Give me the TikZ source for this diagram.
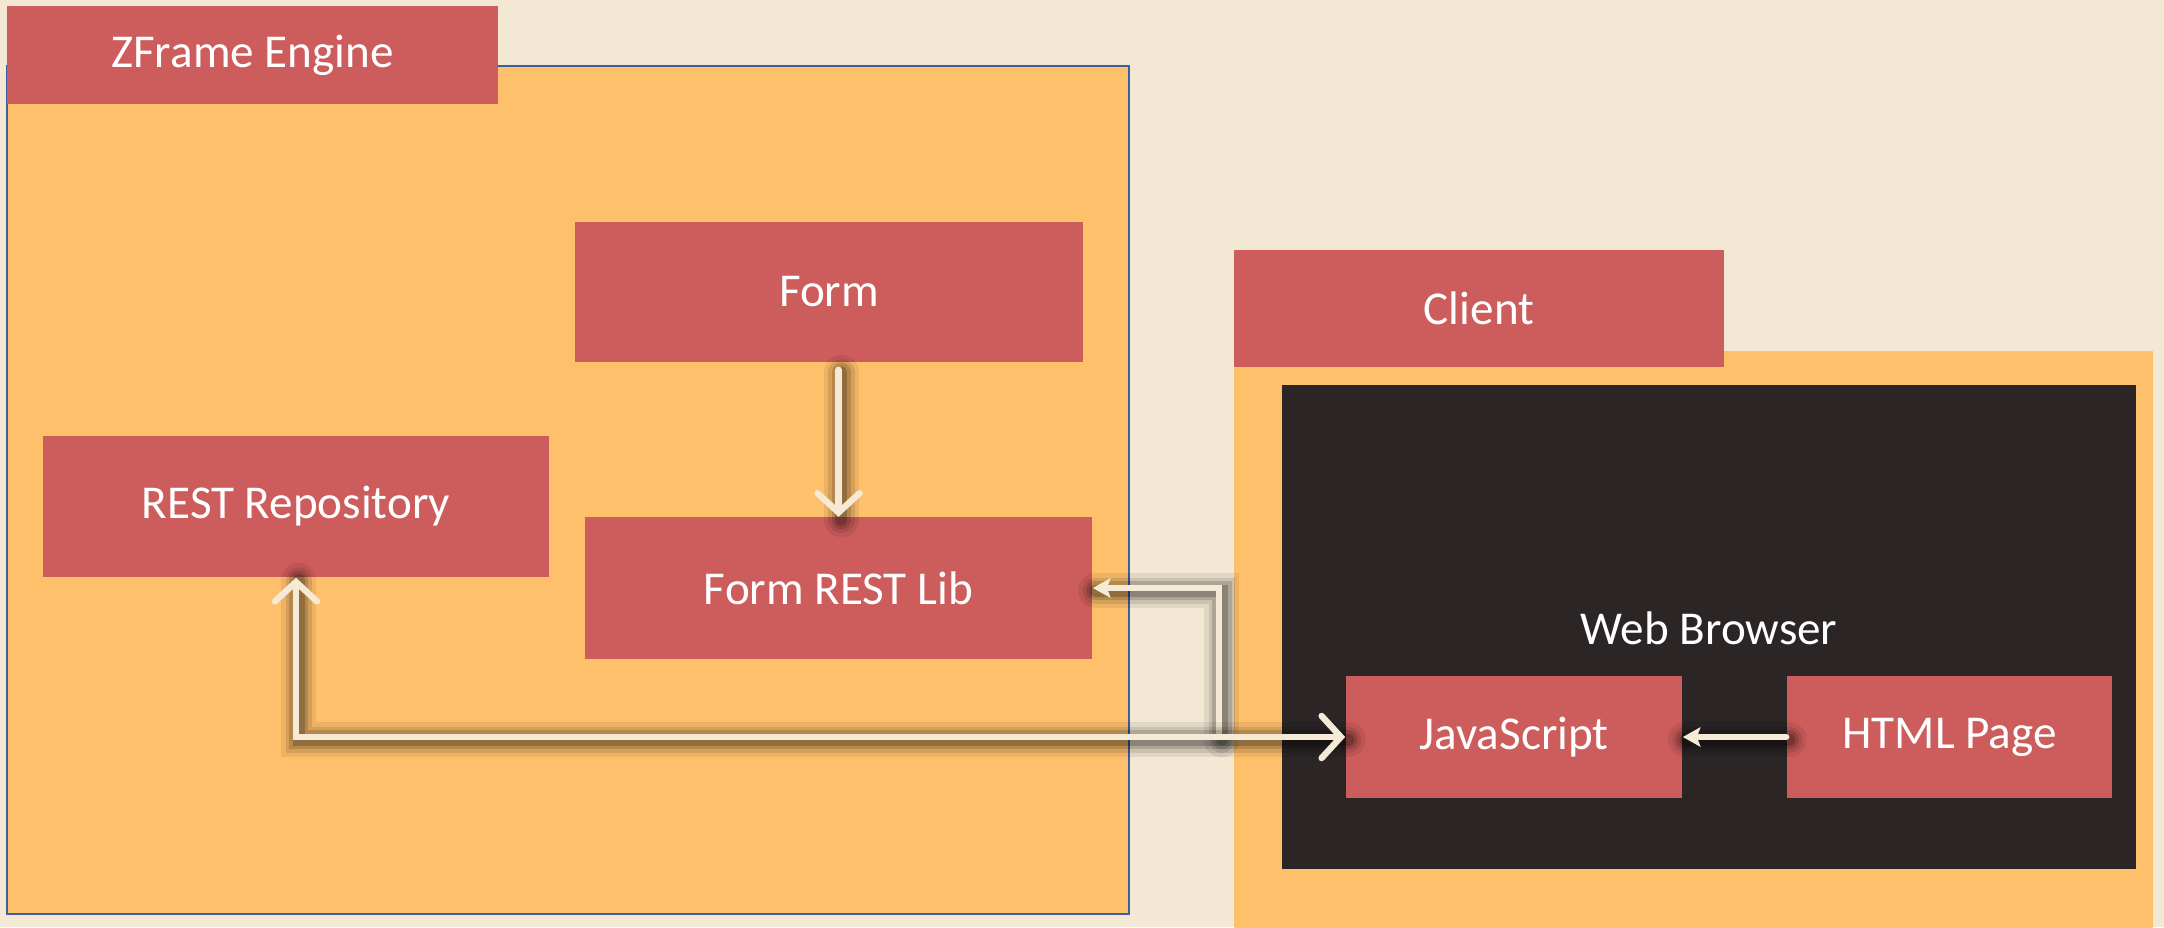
\documentclass[tikz,border=0pt]{standalone}
\usepackage{fontspec}
\setmainfont{Carlito}
\usetikzlibrary{arrows.meta,positioning}

\definecolor{paper}{HTML}{F3E8D4}
\definecolor{engineorange}{HTML}{FFC06B}
\definecolor{boxred}{HTML}{CD5C5C}
\definecolor{browserblack}{HTML}{2B2526}
\definecolor{frameblue}{HTML}{3E5E9E}
\definecolor{flowcream}{HTML}{F4EAD6}

\begin{document}
\begin{tikzpicture}[x=0.01cm, y=-0.01cm,
	every node/.style={font=\fontsize{13.4}{16}\selectfont, text=white},
	redbox/.style={fill=boxred, inner sep=0pt},
	flow/.style={draw=flowcream, line width=1.8pt, line cap=round,
		preaction={draw=black, opacity=0.07, line width=10pt, -, line cap=round, transform canvas={shift={(0.8pt,-0.8pt)}}},
		preaction={draw=black, opacity=0.10, line width=7.5pt, -, line cap=round, transform canvas={shift={(0.8pt,-0.8pt)}}},
		preaction={draw=black, opacity=0.14, line width=5.5pt, -, line cap=round, transform canvas={shift={(0.8pt,-0.8pt)}}},
		preaction={draw=black, opacity=0.20, line width=3.5pt, -, line cap=round, transform canvas={shift={(0.8pt,-0.8pt)}}}},
	barb/.tip={Straight Barb[length=5.5pt,width=12pt,line cap=round]},
	tip/.tip={Stealth[length=5pt,width=5.5pt,inset=1pt]},
	]
	\fill[paper] (0,0) rectangle (2164,927);
	\useasboundingbox (0,0) rectangle (2164,927);
	% containers
	\node[fill=engineorange, draw=frameblue, line width=0.6pt, inner sep=0pt,
		minimum width=11.22cm, minimum height=8.48cm] (engine) at (568,490) {};
	\node[redbox, minimum width=4.91cm, minimum height=0.98cm] (enginelabel) at (252.5,55) {ZFrame Engine};
	\node[fill=engineorange, inner sep=0pt, minimum width=9.19cm, minimum height=5.80cm] (client) at (1693.5,641) {};
	\node[redbox, minimum width=4.90cm, minimum height=1.17cm] (clientlabel) at (1479,308.5) {Client};
	\node[fill=browserblack, inner sep=0pt, minimum width=8.54cm, minimum height=4.84cm] (browser) at (1709,627) {};
	\node (browserlabel) at (1709,628) {Web Browser};
	% boxes
	\node[redbox, minimum width=5.08cm, minimum height=1.40cm] (form) at (829,292) {Form};
	\node[redbox, minimum width=5.06cm, minimum height=1.41cm] (rest) at (296,506.5) {REST Repository};
	\node[redbox, minimum width=5.07cm, minimum height=1.41cm] (frl) at (838.5,588) {Form REST Lib};
	\node[redbox, minimum width=3.36cm, minimum height=1.22cm] (js) at (1514,737) {JavaScript};
	\node[redbox, minimum width=3.25cm, minimum height=1.22cm] (html) at (1949.5,737) {HTML Page};
	\coordinate (split) at (1219,737);
	% connectors
	\draw[flow, -barb, shorten <=2pt] (form.south -| frl.north) -- (frl.north);
	\draw[flow, -tip] (html) -- (js);
	\draw[flow, -tip] (split) |- (frl.east);
	\draw[flow, barb-barb] (rest.south) |- (js.west);
\end{tikzpicture}
\end{document}
